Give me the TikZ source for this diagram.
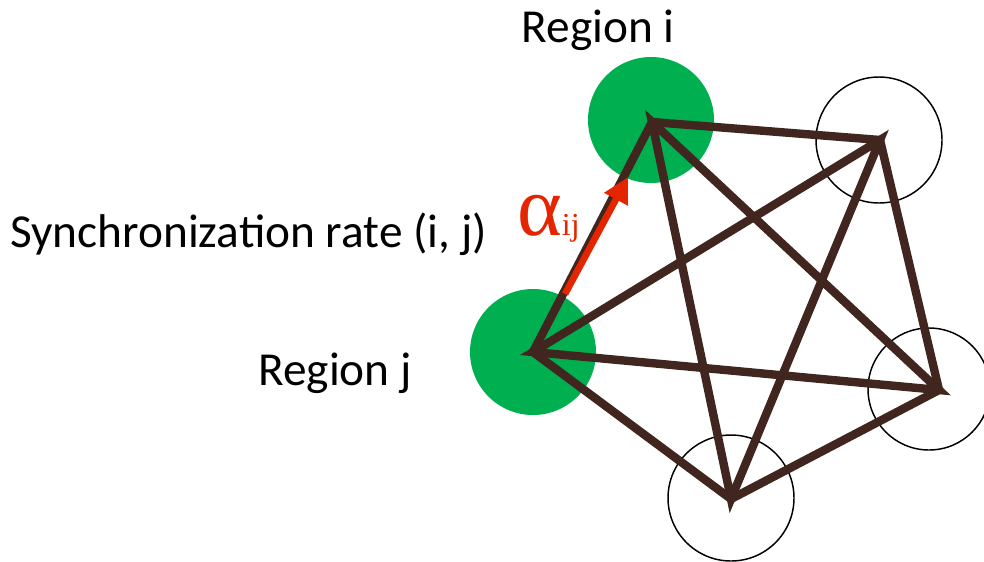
\documentclass[tikz,border=0pt]{standalone}
\usepackage{fontspec}
\setmainfont{Carlito}
\newfontfamily\greekfont{Liberation Serif}
\usetikzlibrary{arrows.meta}
\definecolor{regiongreen}{RGB}{0,176,80}
\definecolor{edgebrown}{RGB}{64,38,30}
\definecolor{ratered}{RGB}{229,36,0}
\begin{document}
\begin{tikzpicture}[x=0.75pt,y=-0.75pt,
  region/.style={circle,inner sep=0pt,minimum size=126*0.75pt},
  filled/.style={region,fill=regiongreen},
  empty/.style={region,draw=black,line width=1.1pt,fill=white},
  edge/.style={draw=edgebrown,line width=6.3pt,line join=miter},
  lab/.style={font=\fontsize{35.5}{40}\selectfont,inner sep=0pt}]
\useasboundingbox (0,0) rectangle (984,561);
\clip (0,0) rectangle (984,561);
% circles
\node[filled] (ri) at (651,120) {};
\node[empty]  (r2) at (879,140) {};
\node[empty,minimum size=122*0.75pt]  (r3) at (929,389) {};
\node[empty]  (r4) at (731,498) {};
\node[filled] (rj) at (533,352) {};
% vertices
\coordinate (v1) at (652,122);
\coordinate (v2) at (880,140);
\coordinate (v3) at (939,390);
\coordinate (v4) at (731,499);
\coordinate (v5) at (533,352);
% edges
\draw[edge] (v1) -- (v2) -- (v3) -- (v4) -- (v5) -- cycle;
\draw[edge] (v1) -- (v3) -- (v5) -- (v2) -- (v4) -- cycle;
% arrow
\coordinate (as) at (565,294);
\coordinate (ae) at (628,177);
\draw[ratered,line width=5pt,-{Triangle[length=19pt,width=19pt]}] (as) -- (ae);
% labels
\node[lab,anchor=base] (li) at (598,42) {Region i};
\node[lab,anchor=base] (lj) at (335,385) {Region j};
\node[lab,anchor=base west] (ls) at (10,247) {Synchronization rate (i, j)};
\node[inner sep=0pt,anchor=base west,text=ratered] (la) at (517,235) {\greekfont\fontsize{64}{64}\selectfont α\fontsize{24}{24}\selectfont ij};
\end{tikzpicture}
\end{document}
